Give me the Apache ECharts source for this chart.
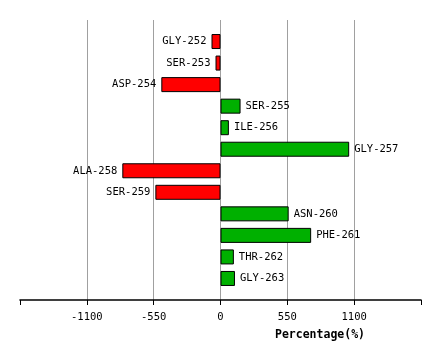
<!DOCTYPE html>
<html>
<head>
<meta charset="utf-8">
<script src="https://cdn.jsdelivr.net/npm/echarts@6/dist/echarts.min.js"></script>
<style>html,body{margin:0;padding:0;background:#fff;}#c{width:440px;height:360px;}</style>
</head>
<body>
<div id="c"></div>
<script>
var categories = ['GLY-252','SER-253','ASP-254','SER-255','ILE-256','GLY-257','ALA-258','SER-259','ASN-260','PHE-261','THR-262','GLY-263'];
var values = [-74, -41, -487, 165, 69, 1059, -808, -536, 561, 746, 110, 119];
var tickLabels = ['-1100','-550','0','550','1100'];
var axisTitle = 'Percentage(%)';

var font = 'DejaVu Sans Mono';
var padded = [''].concat(categories).concat(['']);
var data = [null].concat(values.map(function (v, i) {
  return {
    value: v,
    itemStyle: { color: v < 0 ? '#ff0000' : '#00b000' },
    label: { position: v < 0 ? 'left' : 'right' }
  };
})).concat([null]);

var chart = echarts.init(document.getElementById('c'), null, { renderer: 'canvas' });
chart.setOption({
  animation: false,
  backgroundColor: '#ffffff',
  grid: { left: 20, right: 19, top: 20, bottom: 60, containLabel: false },
  xAxis: {
    type: 'value', min: -1650, max: 1650, interval: 550,
    axisLine: { show: true, onZero: false, lineStyle: { color: '#000', width: 1.6 } },
    axisTick: { show: true, length: 5, lineStyle: { color: '#000', width: 1 } },
    axisLabel: {
      margin: 12, color: '#000', fontFamily: font, fontSize: 10.5,
      formatter: function (v) { var s = String(v); return tickLabels.indexOf(s) >= 0 ? s : ''; }
    },
    splitLine: { show: true, showMinLine: false, showMaxLine: false, lineStyle: { color: '#a0a0a0', width: 1 } }
  },
  yAxis: {
    type: 'category', data: padded, inverse: true, boundaryGap: false,
    axisLine: { show: false }, axisTick: { show: false }, axisLabel: { show: false }, splitLine: { show: false }
  },
  series: [{
    type: 'bar',
    data: data,
    barWidth: 15,
    itemStyle: { borderColor: '#000', borderWidth: 1 },
    label: {
      show: true, distance: 5, color: '#000', fontFamily: font, fontSize: 10.5,
      formatter: function (p) { return p.name; }
    }
  }],
  graphic: [{
    type: 'text', x: 320, y: 335,
    style: { text: axisTitle, fill: '#000', font: 'bold 11.5px "DejaVu Sans Mono"', textAlign: 'center', textVerticalAlign: 'middle' }
  }]
});
</script>
</body>
</html>
